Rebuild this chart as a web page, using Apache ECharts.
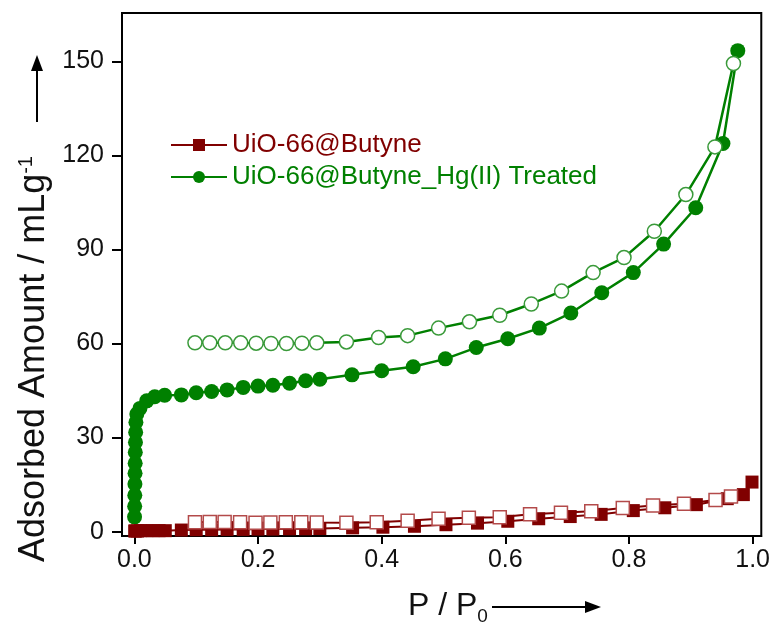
<!DOCTYPE html>
<html>
<head>
<meta charset="utf-8">
<script src="https://cdn.jsdelivr.net/npm/echarts@6/dist/echarts.min.js"></script>
<style>html,body{margin:0;padding:0;background:#fff}#c{width:773px;height:636px}</style>
</head>
<body>
<div id="c"></div>
<script>
var xTicks = [0, 0.2, 0.4, 0.6, 0.8, 1.0];
var yTicks = [0, 30, 60, 90, 120, 150];

var greenAdsX = [0.0003,0.0005,0.0007,0.0009,0.0011,0.0013,0.0015,0.0018,0.0021,0.0025,0.004,0.009,0.02,0.033,0.049,0.076,0.1,0.125,0.15,0.176,0.2,0.224,0.251,0.277,0.3,0.352,0.4,0.451,0.503,0.553,0.604,0.655,0.706,0.756,0.807,0.856,0.908,0.952,0.976];
var greenAdsY = [4.7,8.1,11.6,15.2,18.6,21.8,25.3,28.5,31.7,34.9,37.5,39.3,41.7,43.0,43.5,43.6,44.3,44.7,45.2,46.0,46.4,46.7,47.3,48.1,48.6,50.0,51.3,52.6,55.1,58.7,61.5,64.9,69.7,76.2,82.6,91.7,103.3,123.8,153.4];

var greenDesX = [0.969,0.939,0.892,0.841,0.792,0.742,0.691,0.642,0.591,0.542,0.492,0.442,0.395,0.343,0.295,0.271,0.246,0.221,0.197,0.172,0.147,0.122,0.098];
var greenDesY = [149.3,122.7,107.5,95.8,87.4,82.6,76.7,72.6,69.0,66.9,64.9,62.5,61.9,60.5,60.2,60.1,60.0,60.0,60.1,60.2,60.2,60.2,60.2];

var redAdsX = [0.0005,0.002,0.005,0.01,0.02,0.03,0.04,0.05,0.076,0.1,0.125,0.15,0.176,0.2,0.224,0.251,0.277,0.3,0.353,0.402,0.453,0.504,0.555,0.604,0.654,0.705,0.755,0.807,0.858,0.909,0.959,0.985,0.999];
var redAdsY = [0.2,0.2,0.2,0.3,0.3,0.3,0.3,0.3,0.5,0.6,0.6,0.7,0.7,0.8,0.8,0.9,0.9,1.0,1.2,1.4,1.7,2.2,2.7,3.3,4.1,4.8,5.5,6.7,7.6,8.6,10.5,11.8,15.8];

var redDesX = [0.965,0.940,0.889,0.839,0.790,0.739,0.690,0.640,0.591,0.541,0.492,0.442,0.392,0.343,0.295,0.270,0.245,0.220,0.196,0.171,0.146,0.122,0.098];
var redDesY = [11.2,10.1,8.9,8.3,7.5,6.5,6.0,5.5,4.6,4.4,4.1,3.5,3.0,2.8,2.9,3.0,3.0,2.9,2.8,3.0,3.1,3.1,3.0];

var seriesNames = ['UiO-66@Butyne', 'UiO-66@Butyne_Hg(II) Treated'];

function pairs(xs, ys) { return xs.map(function (x, i) { return [x, ys[i]]; }); }

var RED = '#800000', GREEN = '#008000';
var FONT = '"Liberation Sans", Arial, sans-serif';

var chart = echarts.init(document.getElementById('c'));
chart.setOption({
  animation: false,
  backgroundColor: '#fff',
  textStyle: { fontFamily: FONT },
  grid: { left: 122, top: 13, width: 641, height: 523, show: true, borderColor: '#000', borderWidth: 2, backgroundColor: 'transparent' },
  legend: {
    left: 165, top: 127, orient: 'vertical', itemWidth: 56, itemHeight: 15, itemGap: 6,
    textStyle: { fontSize: 26, fontFamily: FONT, lineHeight: 26 },
    data: [
      { name: seriesNames[0], textStyle: { color: RED } },
      { name: seriesNames[1], textStyle: { color: GREEN } }
    ]
  },
  xAxis: {
    type: 'value', min: -0.02, max: 1.014,
    splitLine: { show: false },
    axisLine: { onZero: false, lineStyle: { color: '#000', width: 2 } },
    axisTick: { show: true, inside: false, length: 8, lineStyle: { color: '#000', width: 2 }, customValues: xTicks },
    axisLabel: { customValues: xTicks, fontSize: 25, color: '#111', margin: 12, fontFamily: FONT,
      formatter: function (v) { return v.toFixed(1); } }
  },
  yAxis: {
    type: 'value', min: -1.4, max: 165.4,
    splitLine: { show: false },
    axisLine: { onZero: false, lineStyle: { color: '#000', width: 2 } },
    axisTick: { show: true, inside: false, length: 10, lineStyle: { color: '#000', width: 2 }, customValues: yTicks },
    axisLabel: { customValues: yTicks, fontSize: 25, color: '#111', margin: 18, fontFamily: FONT }
  },
  graphic: [
    { type: 'text', left: 16, bottom: 74, rotation: Math.PI / 2,
      style: { text: '{a|Adsorbed Amount / mLg}{b|-1}', rich: {
        a: { fontSize: 36, fontFamily: FONT, fill: '#111' },
        b: { fontSize: 20, fontFamily: FONT, fill: '#111', verticalAlign: 'top', padding: [0,0,17,0] } } } },
    { type: 'line', shape: { x1: 37, y1: 122, x2: 37, y2: 66 }, style: { stroke: '#000', lineWidth: 2 } },
    { type: 'polygon', shape: { points: [[37, 55], [31, 71], [43, 71]] }, style: { fill: '#000' } },
    { type: 'text', style: { text: '{a|P / P}{b|0}', rich: {
        a: { fontSize: 32, fontFamily: FONT, fill: '#111' },
        b: { fontSize: 19, fontFamily: FONT, fill: '#111', padding: [22,0,0,0] } } },
      left: 408, top: 590 },
    { type: 'line', shape: { x1: 492, y1: 607, x2: 590, y2: 607 }, style: { stroke: '#000', lineWidth: 2 } },
    { type: 'polygon', shape: { points: [[601, 607], [585, 601], [585, 613]] }, style: { fill: '#000' } }
  ],
  series: [
    { name: seriesNames[1], type: 'line', data: pairs(greenAdsX, greenAdsY), symbol: 'circle', symbolSize: 15,
      itemStyle: { color: GREEN }, lineStyle: { color: GREEN, width: 2.5 }, z: 2 },
    { name: 'Hg desorption', type: 'line', data: pairs(greenDesX, greenDesY), symbol: 'circle', symbolSize: 14,
      itemStyle: { color: '#fff', borderColor: '#3a9a3a', borderWidth: 1.5 }, lineStyle: { color: GREEN, width: 2.5 }, z: 3 },
    { name: seriesNames[0], type: 'line', data: pairs(redAdsX, redAdsY), symbol: 'rect', symbolSize: 13,
      itemStyle: { color: RED }, lineStyle: { color: RED, width: 2 }, z: 4 },
    { name: 'Butyne desorption', type: 'line', data: pairs(redDesX, redDesY), symbol: 'rect', symbolSize: 13,
      itemStyle: { color: '#fff', borderColor: '#b34a4a', borderWidth: 1.5 }, lineStyle: { color: RED, width: 2 }, z: 5 }
  ]
});
</script>
</body>
</html>
